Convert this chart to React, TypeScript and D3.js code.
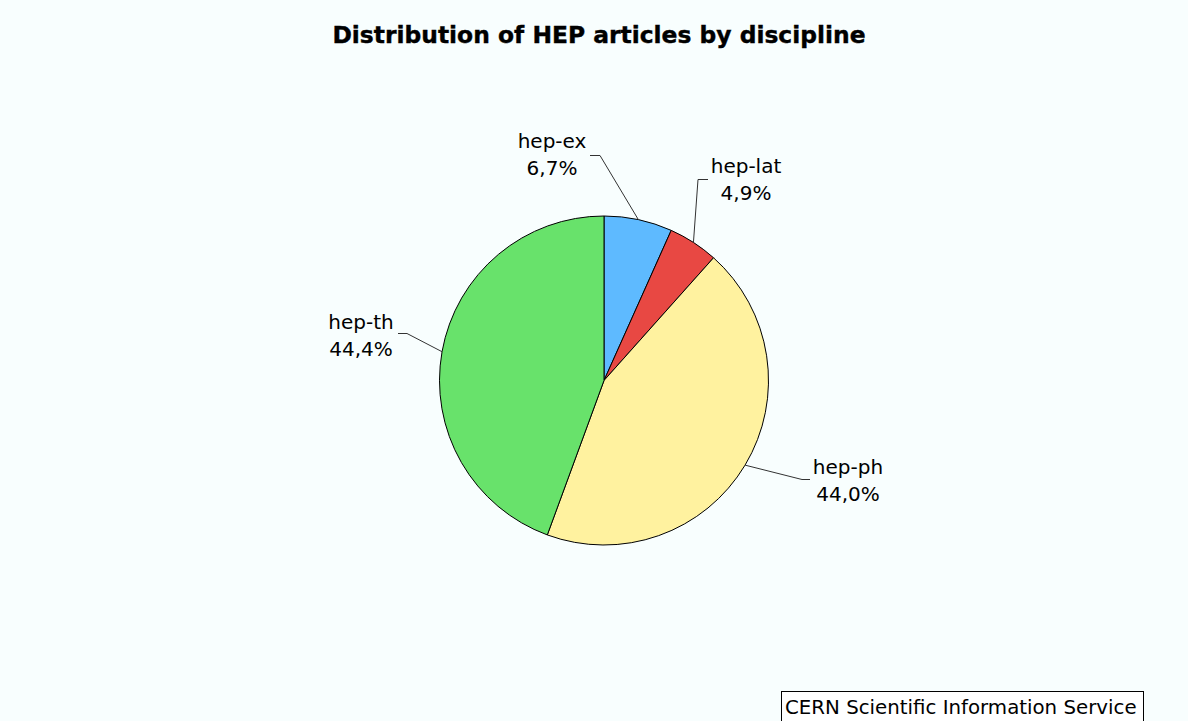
import React from "react";
import * as d3 from "d3";

const categories = ["hep-ex", "hep-lat", "hep-ph", "hep-th"];
const shares = [6.7, 4.9, 44.0, 44.4];
const shareLabels = ["6,7%", "4,9%", "44,0%", "44,4%"];
const colors = ["#5EBAFF", "#E84843", "#FFF29F", "#68E26B"];

// label layout: elbow offset from centre, end of horizontal tick, text centre and baseline (relative to centre)
const labelLayout = [
  { ex: -4, ey: -225, tx: -14, cx: -52, by: -233 },
  { ex: 94, ey: -201, tx: 104, cx: 142, by: -208 },
  { ex: 198, ey: 99, tx: 206, cx: 244, by: 93 },
  { ex: -197, ey: -47, tx: -206, cx: -243, by: -52 },
];

const W = 1188;
const H = 721;
const cx = 604;
const cy = 380.5;
const R = 164.5;
const FONT = "Verdana, 'DejaVu Sans', sans-serif";

export default function App() {
  const data = categories.map((c, i) => ({ name: c, value: shares[i], label: shareLabels[i], color: colors[i], lay: labelLayout[i] }));
  const pie = d3.pie<any>().value((d) => d.value).sort(null).startAngle(0).endAngle(2 * Math.PI);
  const arcs = pie(data);
  const arc = d3.arc<any>().innerRadius(0).outerRadius(R);

  return (
    <svg width={W} height={H} style={{ position: "fixed", left: 0, top: 0, background: "#F8FEFE" }} fontFamily={FONT}>
      <rect x={0} y={0} width={W} height={H} fill="#F8FEFE" />
      <text x={599} y={43} textAnchor="middle" fontWeight="bold" fontSize={23.4} fill="#000" stroke="#000" strokeWidth={0.4}>
        Distribution of HEP articles by discipline
      </text>
      <g transform={`translate(${cx},${cy})`}>
        {arcs.map((a, i) => (
          <path key={i} d={arc(a) as string} fill={a.data.color} stroke="#000" strokeWidth={1} />
        ))}
        {arcs.map((a, i) => {
          const mid = (a.startAngle + a.endAngle) / 2;
          const px = R * Math.sin(mid);
          const py = -R * Math.cos(mid);
          const l = a.data.lay;
          return (
            <g key={"l" + i}>
              <polyline
                points={`${px},${py} ${l.ex},${l.ey} ${l.tx},${l.ey}`}
                fill="none"
                stroke="#333"
                strokeWidth={1}
              />
              <text x={l.cx} y={l.by} textAnchor="middle" fontSize={20} fill="#000">
                {a.data.name}
              </text>
              <text x={l.cx} y={l.by + 27} textAnchor="middle" fontSize={20} fill="#000">
                {a.data.label}
              </text>
            </g>
          );
        })}
      </g>
      <rect x={781.5} y={691.5} width={362} height={40} fill="#FFFFFF" stroke="#000" strokeWidth={1} />
      <text x={785} y={714} fontSize={19.8} fill="#000">
        CERN Scientific Information Service
      </text>
    </svg>
  );
}
